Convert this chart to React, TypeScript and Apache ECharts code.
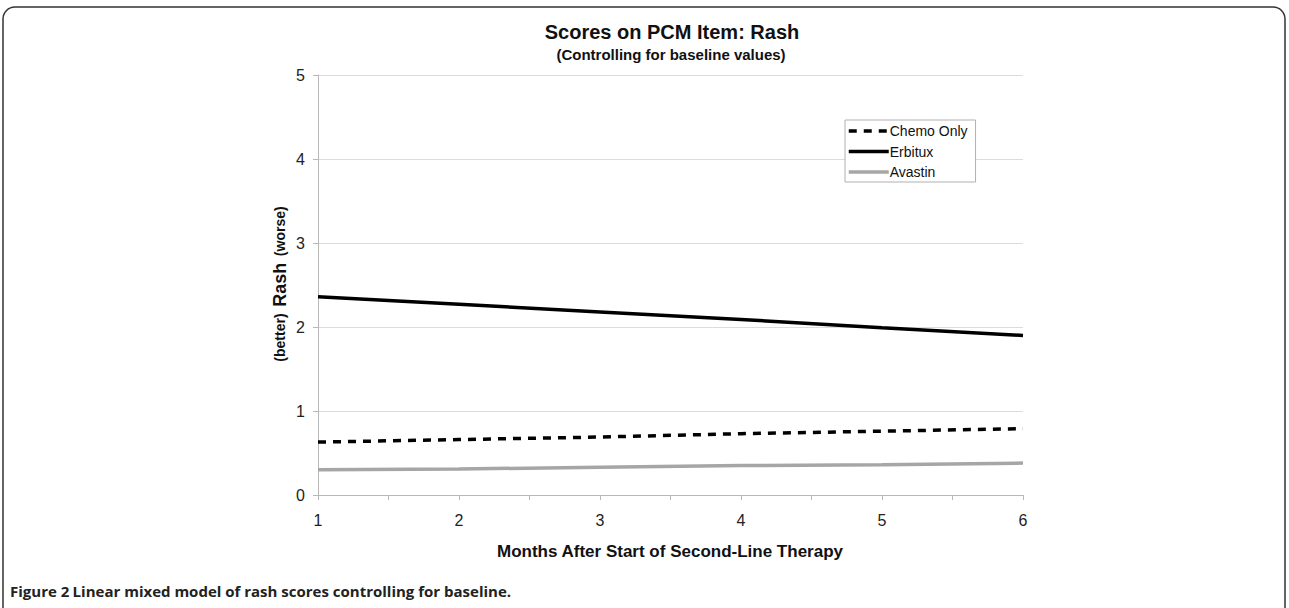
import React, { useEffect, useRef } from "react";
import * as echarts from "echarts";

const months = [1, 2, 3, 4, 5, 6];
const chemoOnly = [0.63, 0.66, 0.69, 0.73, 0.76, 0.79];
const erbitux = [2.36, 2.27, 2.18, 2.09, 1.99, 1.9];
const avastin = [0.3, 0.31, 0.33, 0.35, 0.36, 0.38];

const seriesNames = ["Chemo Only", "Erbitux", "Avastin"];
const title = "Scores on PCM Item: Rash";
const subtitle = "(Controlling for baseline values)";
const xName = "Months After Start of Second-Line Therapy";
const caption = "Linear mixed model of rash scores controlling for baseline.";

const FONT = "'Liberation Sans', Arial, sans-serif";

export default function App() {
  const ref = useRef<HTMLDivElement>(null);
  useEffect(() => {
    if (!ref.current) return;
    const chart = echarts.init(ref.current, undefined, { renderer: "svg" });
    const pair = (vals: number[]) => months.map((m, i) => [m, vals[i]]);
    chart.setOption({
      animation: false,
      backgroundColor: "#ffffff",
      grid: { left: 318, top: 75, width: 705, height: 420 },
      xAxis: {
        type: "value",
        min: 1,
        max: 6,
        interval: 0.5,
        axisLine: { show: true, lineStyle: { color: "#b8b8b8", width: 1 } },
        axisTick: { show: true, length: 5, lineStyle: { color: "#b8b8b8" } },
        splitLine: { show: false },
        axisLabel: {
          color: "#222",
          fontFamily: FONT,
          fontSize: 16,
          margin: 17,
          formatter: (v: number) => (Number.isInteger(v) ? String(v) : ""),
        },
      },
      yAxis: {
        type: "value",
        min: 0,
        max: 5,
        interval: 1,
        axisLine: { show: true, lineStyle: { color: "#b8b8b8", width: 1 } },
        axisTick: { show: true, length: 5, lineStyle: { color: "#b8b8b8" } },
        splitLine: { show: true, lineStyle: { color: "#dcdcdc", width: 1 } },
        axisLabel: { color: "#222", fontFamily: FONT, fontSize: 16, margin: 13 },
      },
      legend: {
        left: 845,
        top: 120,
        orient: "vertical",
        itemWidth: 40,
        itemHeight: 14,
        itemGap: 6.5,
        padding: [4, 8, 3, 2],
        borderColor: "#b0b0b0",
        borderWidth: 1,
        backgroundColor: "#ffffff",
        itemStyle: { color: "rgba(0,0,0,0)", borderWidth: 0, opacity: 0 },
        lineStyle: { width: 3.5 },
        textStyle: { fontFamily: FONT, fontSize: 14, color: "#111", padding: [0, 0, 0, -4] },
        data: seriesNames,
      },
      series: [
        {
          name: seriesNames[0],
          type: "line",
          data: pair(chemoOnly),
          symbol: "none",
          lineStyle: { color: "#000", width: 3.5, type: [8, 7] },
          itemStyle: { color: "#000" },
        },
        {
          name: seriesNames[1],
          type: "line",
          data: pair(erbitux),
          symbol: "none",
          lineStyle: { color: "#000", width: 3.5 },
          itemStyle: { color: "#000" },
        },
        {
          name: seriesNames[2],
          type: "line",
          data: pair(avastin),
          symbol: "none",
          lineStyle: { color: "#a6a6a6", width: 3.5 },
          itemStyle: { color: "#a6a6a6" },
        },
      ],
      graphic: [
        {
          type: "rect",
          shape: { x: 3, y: 7, width: 1282, height: 620, r: 12 },
          style: { fill: "none", stroke: "#333", lineWidth: 1.5 },
          silent: true,
        },
        {
          type: "text",
          x: 672,
          y: 32,
          style: {
            text: title,
            font: `bold 20px ${FONT}`,
            fill: "#111",
            textAlign: "center",
            textVerticalAlign: "middle",
          },
        },
        {
          type: "text",
          x: 671,
          y: 54,
          style: {
            text: subtitle,
            font: `bold 15px ${FONT}`,
            fill: "#111",
            textAlign: "center",
            textVerticalAlign: "middle",
          },
        },
        {
          type: "text",
          x: 280,
          y: 284,
          rotation: Math.PI / 2,
          style: {
            text: "{s|(better)}  {b|Rash}  {s|(worse)}",
            rich: {
              s: { font: `bold 14px ${FONT}`, fill: "#111" },
              b: { font: `bold 18px ${FONT}`, fill: "#111" },
            },
            textAlign: "center",
            textVerticalAlign: "middle",
          },
        },
        {
          type: "text",
          x: 670,
          y: 551,
          style: {
            text: xName,
            font: `bold 17px ${FONT}`,
            fill: "#111",
            textAlign: "center",
            textVerticalAlign: "middle",
          },
        },
        {
          type: "text",
          x: 10,
          y: 591,
          style: {
            text: "{f|Figure 2} {c|" + caption + "}",
            rich: {
              f: { font: `bold 15px 'Open Sans', sans-serif`, fill: "#222" },
              c: { font: `bold 15px 'Open Sans', sans-serif`, fill: "#222" },
            },
            textVerticalAlign: "middle",
          },
        },
      ],
    });
    return () => chart.dispose();
  }, []);
  return (
    <div
      ref={ref}
      style={{ position: "fixed", left: 0, top: 0, width: 1289, height: 608 }}
    />
  );
}
